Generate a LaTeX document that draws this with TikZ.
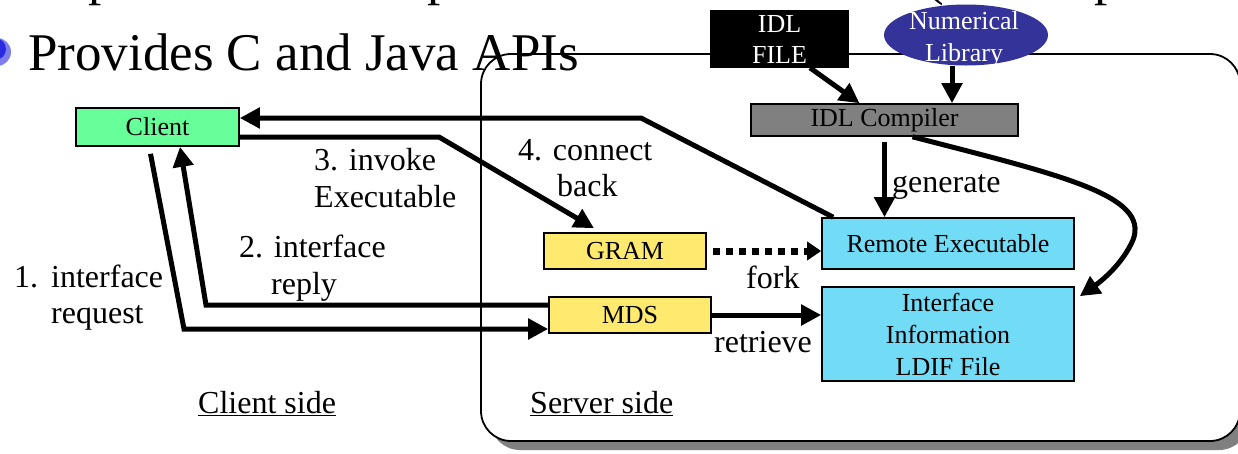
\documentclass[tikz,border=0pt]{standalone}
\usepackage{fontspec}
\setmainfont{Liberation Serif}
\usetikzlibrary{arrows.meta,shapes.geometric}
\definecolor{clientgreen}{HTML}{66FF99}
\definecolor{compgray}{HTML}{808080}
\definecolor{remcyan}{HTML}{72DCF7}
\definecolor{gramyellow}{HTML}{FFE96E}
\definecolor{libblue}{HTML}{333399}
\definecolor{shadowgray}{HTML}{808080}
\definecolor{bulletblue}{HTML}{2A2AE0}
\tikzset{
  box/.style={draw=black, line width=1.6pt, inner sep=0pt, align=center,
    font=\fontsize{26}{31}\selectfont},
  lbl/.style={inner sep=0pt, anchor=base west, font=\fontsize{32}{37}\selectfont},
  arr/.style={line width=5pt, -{Triangle[length=20pt,width=20pt]}},
  fine/.style={line width=5pt}
}
\begin{document}
\begin{tikzpicture}[x=1pt,y=-1pt]
\useasboundingbox (0,0) rectangle (1238,453);
% cropped fragments of the previous line
\node[lbl, font=\fontsize{53}{60}\selectfont] (fp1) at (88,-6) {p};
\node[lbl, font=\fontsize{53}{60}\selectfont] (fp2) at (427,-6) {p};
\node[lbl, font=\fontsize{53}{60}\selectfont] (fp3) at (926,-6) {(};
\node[lbl, font=\fontsize{53}{60}\selectfont] (fp4) at (1094,-6) {p};
% bullet
\fill[bulletblue!60] (-3,52) circle (14);
\fill[bulletblue] (-5,49) circle (11);
% server box with shadow
\fill[shadowgray, rounded corners=30pt] (490,63) rectangle (1249,450);
\draw[fill=white, line width=1.8pt, rounded corners=30pt] (481,54) rectangle (1240,441);
% title
\node[lbl, font=\fontsize{53}{60}\selectfont] (title) at (28,70) {Provides C and Java APIs};
% nodes
\node[box, fill=clientgreen, minimum width=163pt, minimum height=38pt] (client) at (157.5,127) {Client};
\node[box, fill=black, text=white, minimum width=137pt, minimum height=56pt] (idl) at (779.5,39) {IDL\\FILE};
\node[ellipse, fill=libblue, minimum width=164pt, minimum height=61pt, inner sep=0pt] (numlib) at (966,35) {};
\node[inner sep=0pt, align=center, text=white, font=\fontsize{26}{32}\selectfont] (numtxt) at (964,39) {Numerical\\Library};
\node[box, fill=compgray, minimum width=267pt, minimum height=32pt] (compiler) at (884.5,120) {IDL Compiler};
\node[box, fill=remcyan, minimum width=252pt, minimum height=51pt] (remote) at (948,243.5) {Remote Executable};
\node[box, fill=remcyan, minimum width=252pt, minimum height=94pt, font=\fontsize{26}{32}\selectfont] (iface) at (948,334) {Interface\\Information\\LDIF File};
\node[box, fill=gramyellow, minimum width=162pt, minimum height=36pt] (gram) at (625,251) {GRAM};
\node[box, fill=gramyellow, minimum width=162pt, minimum height=36pt] (mds) at (630,315) {MDS};
% bend points
\coordinate (cb) at (641,118);
\coordinate (iv) at (439,137);
\coordinate (rq) at (184,329);
\coordinate (rp) at (206,305);
% connectors
\draw[arr] ([xshift=12pt]remote.north west) -- (cb) -- (cb -| client.east);
\draw[arr] (client.east |- iv) -- (iv) -- ([xshift=-31pt,yshift=4pt]gram.north);
\draw[arr] ([xshift=-7pt,yshift=-7pt]client.south) -- (rq) -- (rq -| mds.west);
\draw[arr] (rp -| mds.west) -- (rp) -- ([xshift=22.5pt]client.south);
\draw[arr] ([yshift=-5pt]compiler.south) -- (compiler.south |- remote.north);
\draw[arr] ([xshift=30.5pt]idl.south) -- ([xshift=-25pt]compiler.north);
\draw[arr] ([xshift=-14pt]numlib.south) -- ([xshift=-14pt]numlib.south |- compiler.north);
\draw[line width=7pt, dash pattern=on 7pt off 6pt, -{Triangle[length=14pt,width=18pt]}] ([xshift=6pt]gram.east) -- (gram.east -| remote.west);
\draw[arr] (mds.east) -- (mds.east -| iface.west);
\draw[arr] ([xshift=28pt]compiler.south) .. controls (1060,175) and (1150,195) .. (1133,240) .. controls (1122,265) and (1100,282) .. ([xshift=5pt,yshift=-10pt]iface.north east);
% labels
\node[lbl] (l1a) at (14,287) {1.};
\node[lbl] (l1b) at (51,287) {interface};
\node[lbl] (l1c) at (51,323) {request};
\node[lbl] (l2a) at (239,257) {2. interface};
\node[lbl] (l2b) at (271,294) {reply};
\node[lbl] (l3a) at (314,170) {3. invoke};
\node[lbl] (l3b) at (314,207) {Executable};
\node[lbl] (l4a) at (518,160) {4. connect};
\node[lbl] (l4b) at (557,196) {back};
\node[lbl] (lgen) at (892,192) {generate};
\node[lbl] (lfork) at (746,288) {fork};
\node[lbl] (lret) at (714,352) {retrieve};
\node[lbl] (lcs) at (198,413) {\underline{Client side}};
\node[lbl] (lss) at (530,413) {\underline{Server side}};
\end{tikzpicture}
\end{document}
